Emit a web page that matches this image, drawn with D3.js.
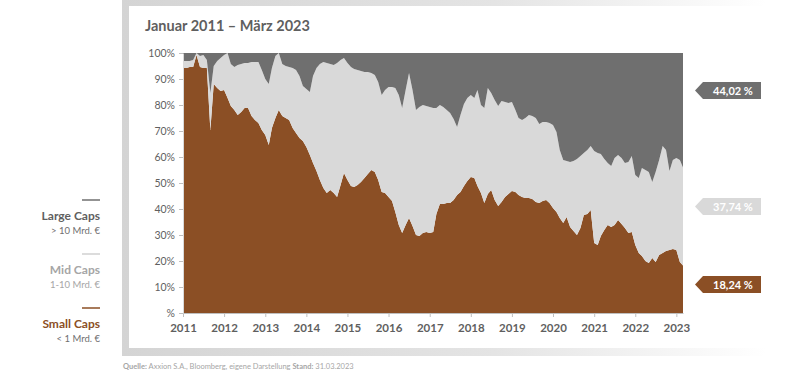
<!DOCTYPE html>
<html>
<head>
<meta charset="utf-8">
<script src="https://cdn.jsdelivr.net/npm/d3@7"></script>
<style>
  body { margin: 0; background: #fff; }
  svg { display: block; font-family: Lato, "Open Sans", sans-serif; }
</style>
</head>
<body>
<svg id="chart" width="800" height="377"></svg>
<script>
// --- DATA (monthly shares in %, Jan 2011 - Mar 2023) ---
const startMonth = new Date(2011, 0, 1);
const endMonth = new Date(2023, 2, 1);

const smallCaps = [
  94.2, 94.2, 94.6, 94.6, 99.2, 94.6, 94.2, 94.2, 70.4, 88.1, 86.5, 85.4,
  85.8, 82.7, 79.6, 78.1, 76.2, 77.3, 78.8, 78.8, 75.8, 74.2, 73.1, 70.4,
  68.5, 64.6, 71.2, 75.0, 78.1, 75.8, 75.0, 74.2, 71.2, 69.2, 67.3, 66.2,
  63.8, 60.8, 57.7, 54.6, 51.2, 48.1, 46.2, 47.3, 46.2, 44.6, 49.2, 53.8,
  51.2, 48.8, 48.5, 49.2, 50.4, 51.9, 53.5, 55.0, 54.2, 51.2, 46.5, 46.2,
  44.6, 43.1, 38.8, 33.8, 30.8, 33.8, 36.5, 33.5, 30.0, 29.6, 30.8, 31.2,
  30.8, 31.2, 38.1, 41.9, 41.9, 42.3, 42.3, 43.5, 45.4, 46.5, 48.8, 50.8,
  52.3, 51.9, 48.8, 46.2, 42.3, 45.8, 47.3, 43.5, 41.2, 42.7, 44.6, 45.8,
  46.9, 46.5, 45.4, 44.6, 44.2, 44.2, 43.8, 42.7, 42.3, 43.1, 43.5, 42.3,
  40.4, 38.8, 36.5, 34.6, 36.9, 33.1, 31.5, 30.0, 32.7, 37.7, 38.1, 39.6,
  26.9, 26.2, 29.6, 31.9, 33.8, 33.1, 33.8, 35.8, 34.2, 32.7, 30.8, 31.2,
  26.2, 23.1, 21.9, 20.0, 19.2, 21.2, 19.6, 22.3, 23.1, 23.8, 24.2, 24.6,
  24.2, 19.6, 18.24
];

const midCaps = [
  2.7, 2.7, 2.3, 2.7, 0.8, 4.2, 5.0, 3.1, 14.2, 6.9, 10.4, 12.7,
  13.4, 17.3, 16.2, 16.5, 19.2, 18.5, 17.4, 17.4, 20.7, 22.3, 23.4, 23.1,
  21.5, 23.5, 23.0, 23.8, 21.9, 20.0, 20.0, 20.4, 23.0, 24.3, 23.9, 21.1,
  22.4, 24.2, 33.5, 39.6, 44.6, 48.4, 50.0, 48.5, 49.2, 51.6, 48.1, 44.3,
  45.0, 45.8, 45.3, 44.3, 42.7, 40.8, 39.2, 37.3, 37.3, 37.6, 37.3, 39.6,
  42.3, 43.8, 47.7, 50.0, 48.0, 52.0, 55.8, 52.3, 48.1, 49.6, 49.2, 48.4,
  48.4, 47.6, 40.7, 38.1, 37.3, 35.8, 34.6, 31.1, 26.1, 29.7, 31.6, 31.9,
  31.5, 30.8, 37.0, 33.8, 36.5, 40.7, 37.3, 38.4, 38.4, 38.8, 36.6, 35.0,
  34.3, 31.6, 29.6, 29.6, 30.8, 32.0, 32.0, 32.3, 30.4, 30.4, 30.0, 30.8,
  31.9, 30.8, 26.2, 24.2, 21.6, 25.0, 27.0, 29.2, 27.7, 23.8, 24.6, 24.6,
  35.4, 35.3, 31.6, 27.3, 23.9, 23.4, 25.8, 25.0, 25.4, 25.0, 27.3, 29.2,
  26.9, 28.8, 33.9, 35.0, 35.0, 29.2, 34.6, 36.5, 41.1, 38.9, 30.4, 34.2,
  35.4, 39.2, 37.74
];

const largeCaps = [
  3.1, 3.1, 3.1, 2.7, 0.0, 1.2, 0.8, 2.7, 15.4, 5.0, 3.1, 1.9,
  0.8, 0.0, 4.2, 5.4, 4.6, 4.2, 3.8, 3.8, 3.5, 3.5, 3.5, 6.5,
  10.0, 11.9, 5.8, 1.2, 0.0, 4.2, 5.0, 5.4, 5.8, 6.5, 8.8, 12.7,
  13.8, 15.0, 8.8, 5.8, 4.2, 3.5, 3.8, 4.2, 4.6, 3.8, 2.7, 1.9,
  3.8, 5.4, 6.2, 6.5, 6.9, 7.3, 7.3, 7.7, 8.5, 11.2, 16.2, 14.2,
  13.1, 13.1, 13.5, 16.2, 21.2, 14.2, 7.7, 14.2, 21.9, 20.8, 20.0, 20.4,
  20.8, 21.2, 21.2, 20.0, 20.8, 21.9, 23.1, 25.4, 28.5, 23.8, 19.6, 17.3,
  16.2, 17.3, 14.2, 20.0, 21.2, 13.5, 15.4, 18.1, 20.4, 18.5, 18.8, 19.2,
  18.8, 21.9, 25.0, 25.8, 25.0, 23.8, 24.2, 25.0, 27.3, 26.5, 26.5, 26.9,
  27.7, 30.4, 37.3, 41.2, 41.5, 41.9, 41.5, 40.8, 39.6, 38.5, 37.3, 35.8,
  37.7, 38.5, 38.8, 40.8, 42.3, 43.5, 40.4, 39.2, 40.4, 42.3, 41.9, 39.6,
  46.9, 48.1, 44.2, 45.0, 45.8, 49.6, 45.8, 41.2, 35.8, 37.3, 45.4, 41.2,
  40.4, 41.2, 44.02
];

const yearTicks = [2011, 2012, 2013, 2014, 2015, 2016, 2017, 2018, 2019, 2020, 2021, 2022, 2023];
const yTicks = [0, 10, 20, 30, 40, 50, 60, 70, 80, 90, 100];
const yTickLabels = ["%", "10%", "20%", "30%", "40%", "50%", "60%", "70%", "80%", "90%", "100%"];

const seriesKeys = ["small", "mid", "large"];
const seriesColors = { small: "#8b4f25", mid: "#d9d9d9", large: "#6f6f6f" };

const legendItems = [
  { name: "Large Caps", sub: "> 10 Mrd. €", color: "#6f6f6f", text: "#5f5f5f", subText: "#6f6f6f" },
  { name: "Mid Caps", sub: "1-10 Mrd. €", color: "#d0d0d0", text: "#a6a6a6", subText: "#a6a6a6" },
  { name: "Small Caps", sub: "< 1 Mrd. €", color: "#8b4f25", text: "#8b4f25", subText: "#6f6f6f" }
];

const endLabels = [
  { key: "large", value: largeCaps[largeCaps.length - 1], fill: "#6f6f6f" },
  { key: "mid", value: midCaps[midCaps.length - 1], fill: "#d9d9d9" },
  { key: "small", value: smallCaps[smallCaps.length - 1], fill: "#8b4f25" }
];

// --- LAYOUT ---
const svg = d3.select("#chart");
const plot = { left: 183, right: 683, top: 53, bottom: 313 };

const months = d3.timeMonths(startMonth, d3.timeMonth.offset(endMonth, 1));
const rows = months.map((m, i) => ({
  date: m, small: smallCaps[i], mid: midCaps[i], large: largeCaps[i]
}));

// Card frame with soft grey edge fading to the right
const defs = svg.append("defs");
const grad = defs.append("linearGradient").attr("id", "frameFade")
  .attr("x1", "0%").attr("x2", "100%").attr("y1", "0%").attr("y2", "0%");
grad.append("stop").attr("offset", "0%").attr("stop-color", "#d4d4d4");
grad.append("stop").attr("offset", "55%").attr("stop-color", "#e4e4e4");
grad.append("stop").attr("offset", "95%").attr("stop-color", "#ffffff");

svg.append("rect")
  .attr("x", 122).attr("y", 0).attr("width", 678).attr("height", 356)
  .attr("fill", "url(#frameFade)");
svg.append("rect")
  .attr("x", 129).attr("y", 6).attr("width", 671).attr("height", 342)
  .attr("fill", "#fff");

// Title
svg.append("text")
  .attr("x", 145).attr("y", 31)
  .attr("fill", "#5f5f5f")
  .attr("font-size", 14.5)
  .attr("font-weight", "bold")
  .text("Januar 2011 – März 2023");

// --- SCALES ---
const x = d3.scaleTime()
  .domain([startMonth, endMonth])
  .range([plot.left, plot.right]);

const y = d3.scaleLinear()
  .domain([0, 100])
  .range([plot.bottom, plot.top]);

// --- STACKED AREAS ---
const stack = d3.stack().keys(seriesKeys);
const stacked = stack(rows);

const area = d3.area()
  .x(d => x(d.data.date))
  .y0(d => y(d[0]))
  .y1(d => y(d[1]));

svg.append("g")
  .selectAll("path")
  .data(stacked)
  .join("path")
  .attr("fill", d => seriesColors[d.key])
  .attr("d", area);

// --- AXES ---
const xAxis = d3.axisBottom(x)
  .tickValues(yearTicks.map(yr => new Date(yr, 0, 1)))
  .tickFormat(d3.timeFormat("%Y"))
  .tickSize(4)
  .tickSizeOuter(0);

const xAxisG = svg.append("g")
  .attr("transform", `translate(0,${plot.bottom})`)
  .call(xAxis);
xAxisG.select(".domain").attr("stroke", "#bfbfbf");
xAxisG.selectAll(".tick line").attr("stroke", "#bfbfbf");
xAxisG.selectAll("text")
  .attr("fill", "#5f5f5f")
  .attr("font-size", 11.5)
  .attr("font-weight", "bold")
  .attr("font-family", "Lato, sans-serif")
  .attr("dy", "1.05em");

const yAxis = d3.axisLeft(y)
  .tickValues(yTicks)
  .tickFormat((d, i) => yTickLabels[i])
  .tickSize(4)
  .tickSizeOuter(0);

const yAxisG = svg.append("g")
  .attr("transform", `translate(${plot.left},0)`)
  .call(yAxis);
yAxisG.select(".domain").attr("stroke", "#d9d9d9");
yAxisG.selectAll(".tick line").attr("stroke", "#bfbfbf");
yAxisG.selectAll("text")
  .attr("fill", "#5f5f5f")
  .attr("font-size", 10.5)
  .attr("font-family", "Lato, sans-serif")
  .attr("x", -8);

// --- LEGEND (left) ---
const legendRight = 100;
const legendTop = 200;
const legendStep = 54;

const lg = svg.append("g");
legendItems.forEach((item, i) => {
  const y0 = legendTop + i * legendStep;
  lg.append("line")
    .attr("x1", legendRight - 18).attr("x2", legendRight)
    .attr("y1", y0).attr("y2", y0)
    .attr("stroke", item.color).attr("stroke-width", 1.5);
  lg.append("text")
    .attr("x", legendRight).attr("y", y0 + 20)
    .attr("text-anchor", "end")
    .attr("fill", item.text)
    .attr("font-size", 12)
    .attr("font-weight", "bold")
    .text(item.name);
  lg.append("text")
    .attr("x", legendRight).attr("y", y0 + 34)
    .attr("text-anchor", "end")
    .attr("fill", item.subText)
    .attr("font-size", 9.5)
    .text(item.sub);
});

// --- END VALUE TAGS (right) ---
const tagY = { large: 90.5, mid: 206.5, small: 284.5 };
const tagLeft = 695, tagRight = 761, tagH = 17, tagTip = 8;
const fmt = v => d3.format(".2f")(v).replace(".", ",") + " %";

const tags = svg.append("g")
  .selectAll("g")
  .data(endLabels)
  .join("g")
  .attr("transform", d => `translate(0,${tagY[d.key]})`);

tags.append("path")
  .attr("fill", d => d.fill)
  .attr("d", `M${tagLeft},0 L${tagLeft + tagTip},${-tagH / 2} L${tagRight},${-tagH / 2} L${tagRight},${tagH / 2} L${tagLeft + tagTip},${tagH / 2} Z`);

tags.append("text")
  .attr("x", (tagLeft + tagTip + tagRight) / 2 + 1)
  .attr("y", 4)
  .attr("text-anchor", "middle")
  .attr("fill", "#fff")
  .attr("font-size", 11)
  .attr("font-weight", "bold")
  .text(d => fmt(d.value));

// --- SOURCE ---
const src = svg.append("text")
  .attr("x", 123).attr("y", 369)
  .attr("fill", "#a6a6a6")
  .attr("font-size", 7.5);
src.append("tspan").attr("font-weight", "bold").text("Quelle:");
src.append("tspan").text(" Axxion S.A., Bloomberg, eigene Darstellung ");
src.append("tspan").attr("font-weight", "bold").text("Stand:");
src.append("tspan").text(" 31.03.2023");
</script>
</body>
</html>
